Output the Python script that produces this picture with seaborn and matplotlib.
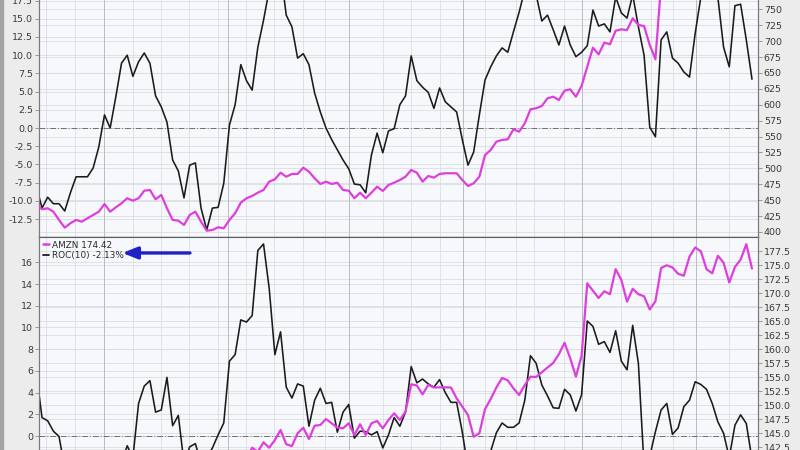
import numpy as np
import matplotlib
matplotlib.use("Agg")
import matplotlib.pyplot as plt
import matplotlib.transforms as mtransforms
from matplotlib.ticker import FixedLocator, FormatStrFormatter
from matplotlib.lines import Line2D
from matplotlib.patches import Rectangle
import seaborn as sns

# ---------------- data (index = bar number, -1 .. 125) ----------------
top_roc = [-8.0, -11.0, -9.5, -10.4, -10.4, -11.4, -8.9, -6.7, -6.7, -6.7,
           -5.5, -2.6, 1.8, 0.0, 4.3, 8.9, 10.0, 7.1, 9.1, 10.3,
           8.9, 4.4, 2.9, 0.8, -4.4, -5.9, -9.6, -5.1, -4.8, -11.0,
           -14.0, -11.0, -10.9, -7.6, 0.4, 3.2, 8.7, 6.5, 5.2, 11.1,
           14.8, 19.0, 21.0, 21.7, 15.5, 13.9, 9.6, 10.2, 8.7, 4.8,
           2.2, 0.0, -1.6, -3.0, -4.4, -5.6, -7.7, -7.8, -8.9, -3.7,
           -0.7, -3.4, -0.4, -0.1, 3.2, 4.4, 9.9, 6.5, 5.6, 4.9,
           2.7, 5.5, 3.6, 2.9, 2.2, -1.6, -5.1, -3.3, 1.8, 6.6,
           8.4, 9.9, 11.0, 10.4, 13.2, 15.9, 19.0, 19.6, 18.3, 14.7,
           15.5, 13.5, 11.4, 14.0, 11.4, 9.8, 10.4, 11.3, 16.2, 14.0,
           14.3, 13.2, 18.0, 15.8, 15.1, 18.3, 13.9, 10.0, 0.1, -1.2,
           12.1, 13.2, 9.6, 8.9, 7.7, 7.0, 13.0, 18.0, 20.3, 20.3,
           17.9, 11.1, 8.4, 16.8, 17.0, 12.1, 6.7]

top_price = [443.5, 435.7, 437.3, 431.9, 418.9, 406.8, 413.7, 418.9, 416.2, 421.5,
             426.7, 431.9, 444.0, 431.9, 438.8, 445.1, 453.0, 449.2, 453.0, 464.9,
             466.0, 451.4, 458.2, 437.3, 418.9, 417.8, 411.0, 426.7, 431.9, 416.2,
             402.0, 403.1, 407.4, 405.8, 418.9, 429.4, 446.1, 453.0, 456.6, 461.8,
             466.0, 479.1, 482.8, 493.2, 486.9, 491.2, 491.2, 501.1, 494.8, 484.4,
             475.5, 479.1, 475.5, 477.5, 466.0, 464.9, 453.0, 461.8, 453.0, 461.8,
             471.2, 464.5, 473.9, 477.5, 481.7, 486.9, 497.5, 493.2, 479.1, 488.0,
             485.4, 491.2, 492.3, 492.3, 492.3, 481.7, 472.3, 476.6, 486.9, 521.0,
             528.9, 542.0, 544.6, 545.7, 561.4, 557.7, 570.9, 592.9, 594.5, 598.1,
             610.2, 612.7, 607.5, 622.1, 624.3, 612.7, 629.5, 659.9, 689.7, 679.3,
             697.6, 695.1, 716.4, 718.6, 717.5, 735.9, 725.4, 723.8, 694.0, 671.5,
             790.0, 805.0, 812.0, 808.0, 800.0, 796.0, 806.0, 818.0, 826.0, 820.0,
             812.0, 806.0, 815.0, 824.0, 830.0, 822.0, 810.0]

bot_roc = [5.8, 1.7, 1.4, 0.45, -0.05, -3.0, -4.5, -5.5, -6.0, -5.0,
           -4.0, -5.0, -4.5, -3.5, -3.0, -2.5, -0.9, -2.0, 3.0, 4.6,
           5.1, 2.2, 2.4, 5.4, 0.95, 1.9, -2.5, -1.0, -0.7, -2.5,
           -2.0, -1.1, 0.1, 1.2, 6.9, 7.5, 10.7, 10.5, 11.1, 17.1,
           17.7, 13.6, 7.5, 9.6, 4.5, 3.5, 4.8, 4.6, 0.9, 3.3,
           4.4, 3.0, 3.1, 0.35, 2.2, 2.9, -0.2, 0.45, 0.4, 0.1,
           0.4, -1.1, 0.1, 1.7, 0.9, 2.2, 6.4, 4.9, 5.25, 4.8,
           4.5, 5.2, 4.0, 3.1, 3.1, 0.35, -3.0, -4.0, -3.5, -2.5,
           -1.4, 0.3, 1.2, 0.8, 0.8, 1.2, 3.3, 7.4, 6.7, 4.7,
           3.7, 2.6, 2.55, 4.3, 3.8, 2.3, 3.8, 10.6, 10.1, 8.45,
           8.7, 7.7, 9.7, 6.9, 6.1, 10.2, 6.7, -2.8, -1.9, 0.4,
           2.4, 3.0, 0.15, 0.75, 2.7, 3.3, 5.0, 4.75, 4.3, 3.0,
           1.3, 0.25, -2.0, 1.0, 1.95, 1.15, -2.13]

bot_price = [131.0, 130.0, 129.5, 128.5, 127.5, 126.8, 126.0, 125.5, 126.2, 127.0,
             126.5, 127.5, 128.0, 129.0, 128.0, 126.5, 125.0, 124.0, 125.5, 127.0,
             128.0, 127.0, 126.0, 126.5, 125.0, 124.0, 122.5, 121.5, 121.0, 120.5,
             121.0, 121.8, 123.5, 126.0, 130.0, 134.0, 137.5, 140.5, 142.43, 141.7,
             143.39, 142.43, 143.8, 145.59, 143.04, 142.73, 145.0, 146.0, 143.98, 146.36,
             146.48, 147.55, 146.79, 146.0, 145.89, 146.79, 144.7, 146.61, 144.7, 146.79,
             147.2, 145.89, 147.38, 148.57, 147.38, 148.86, 153.75, 153.54, 151.96, 153.63,
             153.18, 153.21, 153.21, 153.18, 151.25, 149.75, 148.27, 144.39, 145.0, 149.34,
             151.13, 153.18, 154.88, 154.46, 153.04, 151.84, 153.63, 155.11, 155.05, 155.91,
             156.75, 157.55, 159.13, 161.16, 158.39, 155.11, 158.84, 171.79, 170.45, 169.16,
             170.36, 169.84, 174.3, 172.38, 168.5, 170.8, 169.84, 169.46, 167.11, 168.57,
             174.52, 175.0, 174.61, 173.48, 173.14, 176.54, 178.18, 177.5, 174.3, 173.57,
             176.7, 175.45, 171.93, 174.7, 176.0, 178.77, 174.42]

legend_labels = ["AMZN 174.42", "ROC(10) -2.13%"]

top_left_ticks = [-12.5, -10.0, -7.5, -5.0, -2.5, 0.0, 2.5, 5.0, 7.5, 10.0, 12.5, 15.0, 17.5]
top_right_ticks = [400, 425, 450, 475, 500, 525, 550, 575, 600, 625, 650, 675, 700, 725, 750]
bot_left_ticks = [0, 2, 4, 6, 8, 10, 12, 14, 16]
bot_right_ticks = [142.5, 145.0, 147.5, 150.0, 152.5, 155.0, 157.5, 160.0, 162.5,
                   165.0, 167.5, 170.0, 172.5, 175.0, 177.5]

week_lines = [0.7, 5.8, 16, 21, 25.9, 31, 35.9, 40.8, 46, 49.8, 60, 65, 70, 78,
              83.5, 86.7, 91.9, 102, 107.2, 111.1, 121]
month_lines = [10.9, 32.8, 54, 74.1, 95, 115.2]

idx = np.arange(-1, len(top_roc) - 1)

# ---------------- style ----------------
sns.set_theme(style="white")
plt.rcParams['font.family'] = ['DejaVu Sans']
plt.rcParams['axes.unicode_minus'] = False

MAG = '#DE3FDC'
BLK = '#1b1b1b'
GRID = '#DADDE3'
MGRID = '#B8BCC3'
BG = '#F7F8FB'

fig = plt.figure(figsize=(8, 4.5), dpi=100, facecolor='#ECECEC')
fig.patches.append(Rectangle((0, 0), 3 / 800, 1, transform=fig.transFigure,
                             color='#A3A3A3', zorder=0))

L, W = 39 / 800, 719 / 800
ax1 = fig.add_axes([L, 1 - 237 / 450, W, 237 / 450])
ax2 = fig.add_axes([L, 0, W, 213 / 450])

panels = [
    (ax1, top_roc, top_price, (-14.97, 17.58), (392.1, 764.7),
     top_left_ticks, top_right_ticks, '%.1f', '%d'),
    (ax2, bot_roc, bot_price, (-1.29, 18.34), (142.02, 180.05),
     bot_left_ticks, bot_right_ticks, '%d', '%.1f'),
]

twins = []
for ax, roc, price, ylim_l, ylim_r, lt, rt, lf, rf in panels:
    ax.set_facecolor(BG)
    axr = ax.twinx()
    twins.append(axr)

    sns.lineplot(x=idx, y=roc, ax=ax, color=BLK, linewidth=1.15,
                 estimator=None, sort=False, zorder=5)
    sns.lineplot(x=idx, y=price, ax=axr, color=MAG, linewidth=1.6,
                 estimator=None, sort=False, zorder=5)

    for a in (ax, axr):
        a.set_xlim(-0.53, 126.06)
        a.set_xlabel('')
        a.set_ylabel('')
        a.set_xticks([])
    ax.set_ylim(*ylim_l)
    axr.set_ylim(*ylim_r)

    ax.yaxis.set_major_locator(FixedLocator(lt))
    ax.yaxis.set_major_formatter(FormatStrFormatter(lf))
    axr.yaxis.set_major_locator(FixedLocator(rt))
    axr.yaxis.set_major_formatter(FormatStrFormatter(rf))

    # grid lines, all drawn on the base axes beneath the series
    blend_r = mtransforms.blended_transform_factory(ax.transAxes, axr.transData)
    for v in lt:
        ax.axhline(v, color=GRID, lw=0.6, zorder=1)
    for v in rt:
        ax.plot([0, 1], [v, v], transform=blend_r, color=GRID, lw=0.6, zorder=1)
    for v in week_lines:
        ax.axvline(v, color=GRID, lw=0.6, zorder=1)
    for v in month_lines:
        ax.axvline(v, color=MGRID, lw=0.7, zorder=1)
    ax.axhline(0, color='#6f6f6f', lw=0.7, ls=(0, (6, 2, 1, 2)), zorder=2)

    for a in (ax, axr):
        a.tick_params(axis='y', length=3, width=0.6, color='#8a8a8a',
                      labelsize=6.8, labelcolor='#3a3a3a', pad=1.2)
        for s in a.spines.values():
            s.set_color('#7a7a7a')
            s.set_linewidth(0.8)
        a.spines['top'].set_visible(False)

ax1.spines['bottom'].set_color('#5e5e5e')
ax1.spines['bottom'].set_linewidth(1.0)
twins[0].spines['bottom'].set_visible(False)
ax2.spines['top'].set_visible(True)
ax2.spines['top'].set_color('#5e5e5e')

# legend in lower panel
handles = [Line2D([0], [0], color=MAG, lw=1.8), Line2D([0], [0], color=BLK, lw=1.3)]
leg = twins[1].legend(handles, legend_labels, loc='upper left', frameon=False,
                      fontsize=6.4, handlelength=0.75, handletextpad=0.35,
                      labelspacing=0.12, borderaxespad=0.15, borderpad=0.25)
for t in leg.get_texts():
    t.set_color('#2a2a2a')

twins[1].annotate('', xy=(0.116, 0.925), xytext=(0.21, 0.925),
                  xycoords='axes fraction',
                  arrowprops=dict(arrowstyle='-|>,head_length=0.75,head_width=0.3',
                                  color='#1E22C8', lw=2.4, shrinkA=0, shrinkB=0))

fig.savefig('out.png', dpi=100, facecolor=fig.get_facecolor())
